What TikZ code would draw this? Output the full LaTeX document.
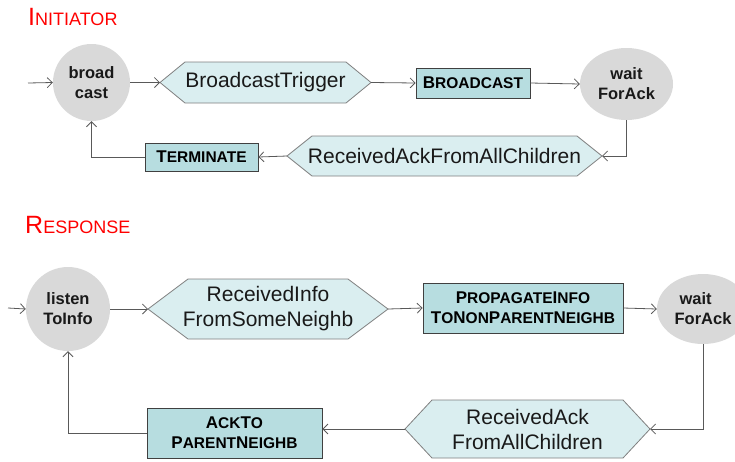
\documentclass[tikz,border=0pt]{standalone}
\usepackage{fontspec}
\setmainfont{Liberation Sans}
\usetikzlibrary{arrows.meta,shapes.geometric,calc}
\definecolor{hexfill}{HTML}{DAEEF0}
\definecolor{recfill}{HTML}{B7DDE0}
\definecolor{stfill}{HTML}{D9D9D9}
\definecolor{lncol}{HTML}{595959}
\definecolor{hexline}{HTML}{7F7F7F}
\definecolor{recline}{HTML}{404040}
\definecolor{titred}{HTML}{FF0000}
\newcommand\BigL[1]{{\fontsize{17}{18}\selectfont #1}}
\newcommand\TitBig[1]{{\fontsize{25}{28}\selectfont #1}}
\newcommand\hexnode[7]{%
  \path[hexshape] ({#2-#4},#3) -- ({#2-#4+#6},{#3-#5}) -- ({#2+#4-#6},{#3-#5}) -- ({#2+#4},#3) -- ({#2+#4-#6},{#3+#5}) -- ({#2-#4+#6},{#3+#5}) -- cycle;
  \node[hextext] (#1) at (#2,#3) {#7};
  \coordinate (#1W) at ({#2-#4},#3);
  \coordinate (#1E) at ({#2+#4},#3);
}
\tikzset{
  hexshape/.style={fill=hexfill, draw=hexline, line width=0.8pt},
  hextext/.style={inner sep=0pt, align=center, font=\fontsize{21}{25}\selectfont, text=black!90},
  recbox/.style={draw=recline, fill=recfill, line width=0.8pt, inner sep=0pt, align=center,
    font=\bfseries\fontsize{15.5}{20}\selectfont, text=black},
  statec/.style={circle, fill=stfill, inner sep=0pt, align=center,
    font=\bfseries\fontsize{16.5}{20}\selectfont, text=black!90},
  statee/.style={ellipse, fill=stfill, inner sep=0pt, align=center,
    font=\bfseries\fontsize{16.5}{20}\selectfont, text=black!90},
  conn/.style={draw=lncol, line width=0.8pt, -{Straight Barb[length=5pt,width=10pt]}},
  title/.style={anchor=base west, inner sep=0pt, text=titred, font=\fontsize{18}{20}\selectfont}
}
\begin{document}
\begin{tikzpicture}[x=1pt,y=-1pt]
\useasboundingbox (0,0) rectangle (735,461);
% ---------------- Initiator ----------------
\node[title] (tinit) at (28,25) {\TitBig{I}NITIATOR};
\node[statec, minimum size=77pt] (bc) at (91.5,82.5) {broad\\cast};
\coordinate (inA) at (28,83);
\hexnode{bt}{265.5}{82.5}{105.5}{20.5}{25}{BroadcastTrigger}
\node[recbox, minimum width=114pt, minimum height=30pt] (bcast) at (473,83) {\BigL{B}ROADCAST};
\node[statee, minimum width=93pt, minimum height=72pt] (wfa) at (626.5,84) {wait\\ForAck};
\hexnode{ra}{444.5}{156}{157.5}{20}{25}{ReceivedAckFromAllChildren}
\node[recbox, minimum width=113pt, minimum height=28pt] (term) at (201.5,157) {\BigL{T}ERMINATE};

\draw[conn] (inA) -- (bc.west);
\draw[conn] (bc.east) -- (btW);
\draw[conn] (btE) -- (bcast.west);
\draw[conn] (bcast.east) -- (wfa.west);
\draw[conn] (wfa.south) |- (raE);
\draw[conn] (raW) -- (term.east);
\draw[conn] (term.west) -| (bc.south);

% ---------------- Response ----------------
\node[title] (tresp) at (25,233) {\TitBig{R}ESPONSE};
\node[statec, minimum size=84pt] (li) at (68,309) {listen\\ToInfo};
\coordinate (inB) at (8,308);
\hexnode{ri}{268}{309}{120}{30}{40}{ReceivedInfo\\FromSomeNeighb}
\node[recbox, minimum width=200pt, minimum height=50pt] (pr) at (523,308) {\BigL{P}ROPAGATE\BigL{I}NFO\\\BigL{T}O\BigL{N}ON\BigL{P}ARENT\BigL{N}EIGHB};
\node[statee, minimum width=92pt, minimum height=70pt, align=left] (wf2) at (703,309) {\hspace{5pt}wait\\ForAck};
\hexnode{rac}{527.5}{429}{122.5}{29}{27}{ReceivedAck\\FromAllChildren}
\node[recbox, minimum width=175pt, minimum height=50pt] (ack) at (234.5,433) {\BigL{A}CK\BigL{T}O\\\BigL{P}ARENT\BigL{N}EIGHB};

\draw[conn] (inB) -- (li.west);
\draw[conn] (li.east) -- (riW);
\draw[conn] (riE) -- (pr.west);
\draw[conn] (pr.east) -- (wf2.west);
\draw[conn] (wf2.south) |- (racE);
\draw[conn] (racW) -- (racW -| ack.east);
\draw[conn] (ack.west) -| (li.south);
\end{tikzpicture}
\end{document}
